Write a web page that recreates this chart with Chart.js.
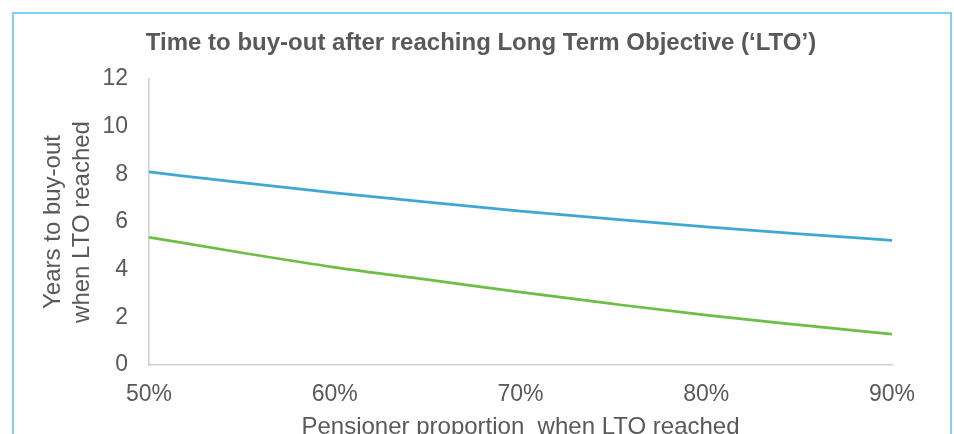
<!DOCTYPE html>
<html>
<head>
<meta charset="utf-8">
<title>Time to buy-out after reaching Long Term Objective</title>
<script src="https://cdn.jsdelivr.net/npm/chart.js@4/dist/chart.umd.min.js"></script>
<style>
  html, body { margin: 0; padding: 0; background: #ffffff; overflow: hidden; }
  #wrap { position: relative; width: 954px; height: 470px; }
</style>
</head>
<body>
<div id="wrap"><canvas id="chart" width="954" height="470"></canvas></div>
<script>
// Pensioner proportion (%) at which the Long Term Objective is reached
const pensionerShare = [50, 55, 60, 65, 70, 75, 80, 85, 90];
// Years to buy-out, upper (blue) and lower (green) cases
const yearsUpper = [8.10, 7.65, 7.22, 6.83, 6.46, 6.12, 5.80, 5.50, 5.23];
const yearsLower = [5.36, 4.71, 4.10, 3.58, 3.06, 2.56, 2.09, 1.68, 1.29];
const yTicks = [0, 2, 4, 6, 8, 10, 12];
const xTicks = [50, 60, 70, 80, 90];

const chartTitle = 'Time to buy-out after reaching Long Term Objective (\u2018LTO\u2019)';
const yTitle = ['Years to buy-out', 'when LTO reached'];
const xTitle = 'Pensioner proportion  when LTO reached';

const FONT = "'Liberation Sans', Arial, Helvetica, sans-serif";
const TEXT = '#595959';

const toPoints = vals => pensionerShare.map((x, i) => ({ x: x, y: vals[i] }));

// Frame around the figure and the bold heading
const framePlugin = {
  id: 'frame',
  afterDraw(chart) {
    const ctx = chart.ctx;
    ctx.save();
    ctx.strokeStyle = '#7FD0F0';
    ctx.lineWidth = 2;
    ctx.strokeRect(13, 13, 938, 446);
    ctx.fillStyle = TEXT;
    ctx.font = 'bold 24px ' + FONT;
    ctx.textAlign = 'center';
    ctx.textBaseline = 'alphabetic';
    ctx.fillText(chartTitle, 481, 50);
    ctx.restore();
  }
};

new Chart(document.getElementById('chart'), {
  type: 'line',
  data: {
    datasets: [
      {
        label: 'Upper',
        data: toPoints(yearsUpper),
        borderColor: '#3FA8D1',
        borderWidth: 2.75,
        pointRadius: 0,
        cubicInterpolationMode: 'monotone',
        fill: false
      },
      {
        label: 'Lower',
        data: toPoints(yearsLower),
        borderColor: '#6CBE45',
        borderWidth: 2.75,
        pointRadius: 0,
        cubicInterpolationMode: 'monotone',
        fill: false
      }
    ]
  },
  options: {
    responsive: false,
    animation: false,
    events: [],
    layout: { padding: { left: 0, right: 62, top: 79, bottom: 20 } },
    plugins: {
      legend: { display: false },
      title: { display: false },
      tooltip: { enabled: false }
    },
    scales: {
      x: {
        type: 'linear',
        min: 50,
        max: 90,
        afterFit: s => { s.height = 85; },
        afterBuildTicks: s => { s.ticks = xTicks.map(v => ({ value: v })); },
        grid: { display: false, drawTicks: false },
        border: { display: true, color: '#D0D0D0', width: 1.5 },
        ticks: {
          padding: 16,
          color: TEXT,
          font: { family: FONT, size: 23 },
          maxRotation: 0,
          callback: v => v + '%'
        },
        title: {
          display: true,
          text: xTitle,
          color: TEXT,
          font: { family: FONT, size: 24 },
          padding: { top: 0, bottom: 8.6 }
        }
      },
      y: {
        min: 0,
        max: 12,
        afterFit: s => { s.width = 149; },
        afterBuildTicks: s => { s.ticks = yTicks.map(v => ({ value: v })); },
        grid: { display: false, drawTicks: false },
        border: { display: true, color: '#D0D0D0', width: 1.5 },
        ticks: {
          padding: 21,
          color: TEXT,
          font: { family: FONT, size: 23 }
        },
        title: {
          display: true,
          text: yTitle,
          color: TEXT,
          font: { family: FONT, size: 24, lineHeight: 1.21 },
          padding: { top: 38.5, bottom: 0 }
        }
      }
    }
  },
  plugins: [framePlugin]
});
</script>
</body>
</html>
